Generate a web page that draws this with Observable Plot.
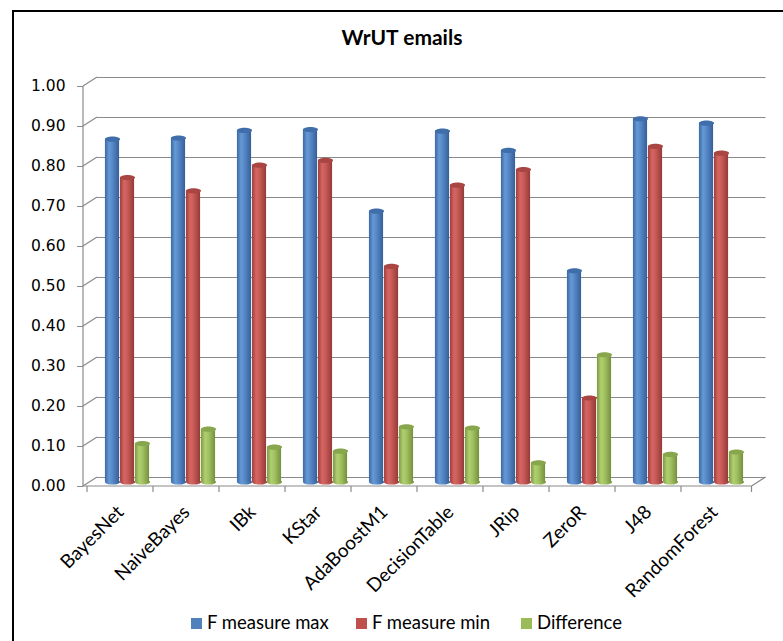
<!DOCTYPE html>
<html><head><meta charset="utf-8">
<script src="https://cdn.jsdelivr.net/npm/d3@7"></script>
<script src="https://cdn.jsdelivr.net/npm/@observablehq/plot@0.6"></script>
<style>
html,body{margin:0;padding:0;background:#fff;width:783px;height:641px;overflow:hidden;}
#wrap{position:relative;width:783px;height:641px;}
#border{position:absolute;left:12px;top:10px;width:900px;height:900px;border-left:2px solid #000;border-top:2px solid #000;}
#title{position:absolute;left:0;width:804px;top:26px;text-align:center;font:bold 21px/21px Lato;color:#000;}
#chart{position:absolute;left:0;top:0;}
.leg{position:absolute;top:613px;font:18.5px/18px Lato;color:#000;white-space:nowrap;}
.sw{position:absolute;top:5px;width:11px;height:11px;left:-16px;}
</style></head>
<body>
<svg width="0" height="0" style="position:absolute"><defs id="defs"></defs></svg>
<div id="wrap">
  <div id="border"></div>
  <div id="chart"></div>
  <div id="title">WrUT emails</div>
  <div id="legend"></div>
</div>
<script>
const categories = ["BayesNet","NaiveBayes","IBk","KStar","AdaBoostM1","DecisionTable","JRip","ZeroR","J48","RandomForest"];
const fMeasureMax = [0.857,0.860,0.879,0.881,0.677,0.877,0.829,0.528,0.908,0.897];
const fMeasureMin = [0.761,0.728,0.792,0.804,0.539,0.742,0.781,0.210,0.839,0.822];
const difference  = [0.096,0.132,0.087,0.077,0.138,0.135,0.048,0.318,0.069,0.075];
const yTicks = [0,0.1,0.2,0.3,0.4,0.5,0.6,0.7,0.8,0.9,1.0];
const seriesNames = ["F measure max","F measure min","Difference"];
const seriesKeys = ["max","min","diff"];
const seriesColors = ["#4F81BD","#C0504D","#9BBB59"];

const rows = categories.map((c,i)=>({cat:c, max:fMeasureMax[i], min:fMeasureMin[i], diff:difference[i]}));

const shades = {
  "#4F81BD": {stops:["#3B69A4","#6699D6","#5587C6","#365F97"], cap:"#3F6EAA"},
  "#C0504D": {stops:["#9E3E3C","#D66663","#C75A57","#943A38"], cap:"#A94643"},
  "#9BBB59": {stops:["#7C9A43","#B0D070","#A1C161","#74903D"], cap:"#87A64D"}
};
const defs = d3.select("#defs");
seriesColors.forEach((c,i)=>{
  const g = defs.append("linearGradient").attr("id","grad"+i).attr("x1",0).attr("x2",1).attr("y1",0).attr("y2",0);
  [0,0.3,0.55,1].forEach((o,j)=>g.append("stop").attr("offset",o).attr("stop-color",shades[c].stops[j]));
});

const W = 783, H = 641;
const mL = 90, mR = 24.5, mT = 81.5, mB = 159.5;
const depthX = 7, depthY = 4.5;
const barW = 15;
const bandW = (W - mL - mR) / categories.length;
const inset = (bandW - barW) / 2;
const offsets = [-barW, 0, barW];

function ellipse(rx, ry){
  const k = 0.5523;
  return {draw(ctx){
    ctx.moveTo(-rx,0);
    ctx.bezierCurveTo(-rx,-ry*k,-rx*k,-ry,0,-ry);
    ctx.bezierCurveTo(rx*k,-ry,rx,-ry*k,rx,0);
    ctx.bezierCurveTo(rx,ry*k,rx*k,ry,0,ry);
    ctx.bezierCurveTo(-rx*k,ry,-rx,ry*k,-rx,0);
    ctx.closePath();
  }};
}
const capSym = ellipse(barW/2, 2.6);

const frameLines = (index, scales, values, dims) => {
  const {x, y} = scales;
  const left = dims.marginLeft, right = dims.width - dims.marginRight;
  const g = d3.create("svg:g").attr("stroke","#8a8a8a").attr("fill","none").attr("stroke-width",1.2);
  const fx0 = left - depthX, fx1 = right - depthX;
  const yb = y(0) + depthY, yt = y(1) + depthY;
  g.append("line").attr("x1",fx0).attr("x2",fx0).attr("y1",yt).attr("y2",yb);
  yTicks.forEach(t=>{
    g.append("line").attr("x1",fx0).attr("y1",y(t)+depthY).attr("x2",left+depthX).attr("y2",y(t)-depthY);
  });
  g.append("line").attr("x1",fx0).attr("x2",fx1).attr("y1",yb).attr("y2",yb);
  g.append("line").attr("x1",fx1).attr("y1",yb).attr("x2",right+depthX).attr("y2",y(0)-depthY);
  const bounds = categories.map(c=>x(c)).concat([right]);
  bounds.forEach(b=>{
    g.append("line").attr("x1",b-depthX).attr("x2",b-depthX).attr("y1",yb).attr("y2",yb+6);
  });
  return g.node();
};

const marks = [
  Plot.gridY(yTicks, {dx: depthX, dy: -depthY, stroke: "#8a8a8a", strokeOpacity: 1, strokeWidth: 1.2}),
  frameLines,
  Plot.axisY({ticks: yTicks, tickFormat: d => d.toFixed(2), tickSize: 6, tickPadding: 12, dx: -depthX, dy: depthY,
    stroke: "#8a8a8a", fill: "#000", fontSize: 15.5, fontFamily: "DejaVu Sans", label: null})
];
seriesKeys.forEach((k,i)=>{
  const c = seriesColors[i];
  marks.push(Plot.dot(rows, {x:"cat", y:()=>0, dx: offsets[i], symbol: capSym, fill: `url(#grad${i})`, stroke: "none"}));
  marks.push(Plot.barY(rows, {x:"cat", y:k, dx: offsets[i], insetLeft: inset, insetRight: inset, fill: `url(#grad${i})`}));
  marks.push(Plot.dot(rows, {x:"cat", y:k, dx: offsets[i], symbol: capSym, fill: shades[c].cap, stroke: "none"}));
});
marks.push(Plot.text(rows, {x:"cat", y:()=>0, text:"cat", rotate:-45, textAnchor:"end", dx:-7, dy:27,
  fontSize:19, fontFamily:"Lato", fill:"#000"}));

const chart = Plot.plot({
  width: W, height: H,
  marginLeft: mL, marginRight: mR, marginTop: mT, marginBottom: mB,
  style: {background: "transparent", fontFamily: "Lato", overflow: "visible"},
  x: {type: "band", domain: categories, padding: 0, axis: null},
  y: {domain: [0, 1], axis: null},
  marks
});
document.getElementById("chart").appendChild(chart);

const legendLefts = [207, 372, 537];
const leg = d3.select("#legend");
seriesNames.forEach((n,i)=>{
  const d = leg.append("div").attr("class","leg").style("left", legendLefts[i]+"px");
  d.append("div").attr("class","sw").style("background", seriesColors[i]);
  d.append("span").text(n);
});
</script>
</body></html>
